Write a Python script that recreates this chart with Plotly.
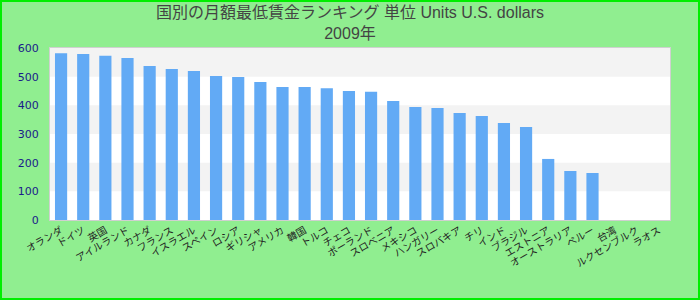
import plotly.graph_objects as go

categories = ["オランダ", "ドイツ", "英国", "アイルランド", "カナダ", "フランス", "イスラエル",
              "スペイン", "ロシア", "ギリシャ", "アメリカ", "韓国", "トルコ", "チェコ",
              "ポーランド", "スロベニア", "メキシコ", "ハンガリー", "スロバキア", "チリ",
              "インド", "ブラジル", "エストニア", "オーストラリア", "ペルー", "台湾",
              "ルクセンブルク", "ラオス"]
values = [582, 579, 573, 565, 537, 527, 520, 502, 499, 481, 464, 464, 460, 450,
          447, 415, 394, 391, 373, 363, 338, 324, 213, 171, 164, None, None, None]
title_line1 = "国別の月額最低賃金ランキング 単位 Units U.S. dollars"
title_line2 = "2009年"

W, H = 700, 300
L, R, T, B = 50, 30, 48, 80
pw, ph = W - L - R, H - T - B

fig = go.Figure(go.Bar(x=categories, y=values, marker_color="#62AAF5",
                       marker_line_width=0, hoverinfo="x+y"))

shapes = []
for lo in (100, 300, 500):
    shapes.append(dict(type="rect", xref="paper", yref="y", x0=0, x1=1, y0=lo, y1=lo + 100,
                       fillcolor="#F3F3F3", line_width=0, layer="below"))
shapes.append(dict(type="rect", xref="paper", yref="paper",
                   x0=(-L + 1) / pw, x1=1 + (R - 1) / pw,
                   y0=(-B + 1) / ph, y1=1 + (T - 1) / ph,
                   line=dict(color="#00EE00", width=2), fillcolor="rgba(0,0,0,0)"))

fig.update_layout(
    width=W, height=H,
    margin=dict(l=L, r=R, t=T, b=B, pad=0),
    paper_bgcolor="#90EE90", plot_bgcolor="#FFFFFF",
    title=dict(text=title_line1 + "<br>" + title_line2, x=0.5, xanchor="center",
               y=1 - 18 / H, yanchor="middle",
               font=dict(family="Liberation Sans, Noto Sans CJK JP", size=16, color="#444444")),
    bargap=0.45,
    showlegend=False,
    shapes=shapes,
    font=dict(family="DejaVu Sans, Noto Sans CJK JP"),
)
fig.update_xaxes(tickangle=-30, tickfont=dict(size=10, color="#222222",
                 family="Noto Sans CJK JP"),
                 showline=True, linecolor="#D0D0D0", linewidth=1, mirror=True,
                 showgrid=False, ticks="", range=[-0.5, len(categories) - 0.5])
fig.update_yaxes(range=[0, 600], dtick=100, tickfont=dict(size=11, color="#1A1A8A"),
                 showline=True, linecolor="#D0D0D0", linewidth=1, mirror=True,
                 showgrid=False, zeroline=False, ticks="", ticklabelstandoff=8)

fig.write_html("out.html")
